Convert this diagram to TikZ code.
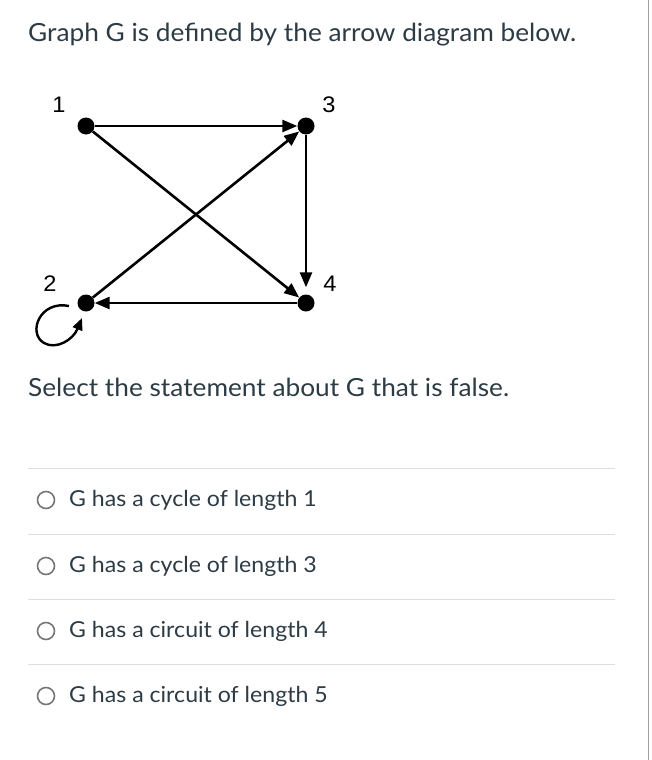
\documentclass[tikz,border=0pt]{standalone}
\usepackage{fontspec}
\setmainfont{Lato}[FakeStretch=1.05]
\newfontfamily\arialfont{Liberation Sans}[FakeStretch=1.05]
\usepackage{tikz}
\usetikzlibrary{arrows.meta, positioning, calc}
\definecolor{canvasink}{HTML}{2D3B45}
\definecolor{rulegray}{HTML}{DDDDDD}
\definecolor{radiogray}{HTML}{777777}
\definecolor{edgegray}{HTML}{A0A0A0}

\begin{document}
\begin{tikzpicture}[x=1pt, y=-1pt,
  dot/.style={circle, fill=black, inner sep=0pt, minimum size=17pt},
  vlabel/.style={font=\arialfont\fontsize{22.5}{22}\selectfont, text=black},
  edge/.style={line width=2.6pt, -{Triangle[length=15pt, width=12pt]}},
  question/.style={font=\fontsize{25}{29}\selectfont, text=canvasink, anchor=base west, inner sep=0pt},
  answer/.style={font=\fontsize{22}{26}\selectfont, text=canvasink, anchor=base west, inner sep=0pt},
  radio/.style={circle, draw=radiogray, line width=1.6pt, minimum size=17pt, inner sep=0pt},
  divider/.style={draw=rulegray, line width=1pt}]
  \useasboundingbox (0,0) rectangle (652,760);
  \draw[edgegray, line width=1.5pt] (648.5,0) -- (648.5,760);

  % question
  \node[question] (title) at (28,42) {Graph G is defined by the arrow diagram below.};

  % arrow diagram
  \node[dot] (v1) at (86,126) {};
  \node[dot] (v3) at (306,126) {};
  \node[dot] (v2) at (86,303) {};
  \node[dot] (v4) at (306,303) {};
  \node[vlabel] (l1) at (59,105) {1};
  \node[vlabel] (l3) at (329,105) {3};
  \node[vlabel] (l2) at (50,284) {2};
  \node[vlabel] (l4) at (330,284) {4};

  \draw[edge] (v1) -- (v3);
  \draw[edge] (v1) -- (v4);
  \draw[edge] (v2) -- (v3);
  \draw[edge, shorten >=7pt] (v3) -- (v4);
  \draw[edge] (v4) -- (v2);
  \coordinate (loopstart) at (69,306);
  \coordinate (loopend) at (82,318);
  \draw[line width=2.4pt, -{Triangle[length=12pt, width=10pt]}] (loopstart) .. controls (40,300) and (27,333) .. (44,343) .. controls (56,350) and (73,340) .. (loopend);

  \node[question] (prompt) at (28,396) {Select the statement about G that is false.};

  % answers
  \foreach \y/\txt [count=\i] in {468/{G has a cycle of length 1}, 534/{G has a cycle of length 3}, 599/{G has a circuit of length 4}, 664/{G has a circuit of length 5}} {
    \draw[divider] (28,\y) -- (615,\y);
    \node[radio] (radio\i) at (46,\y+32) {};
    \node[answer] (answer\i) at (69,\y+38) {\txt};
  }
\end{tikzpicture}
\end{document}
